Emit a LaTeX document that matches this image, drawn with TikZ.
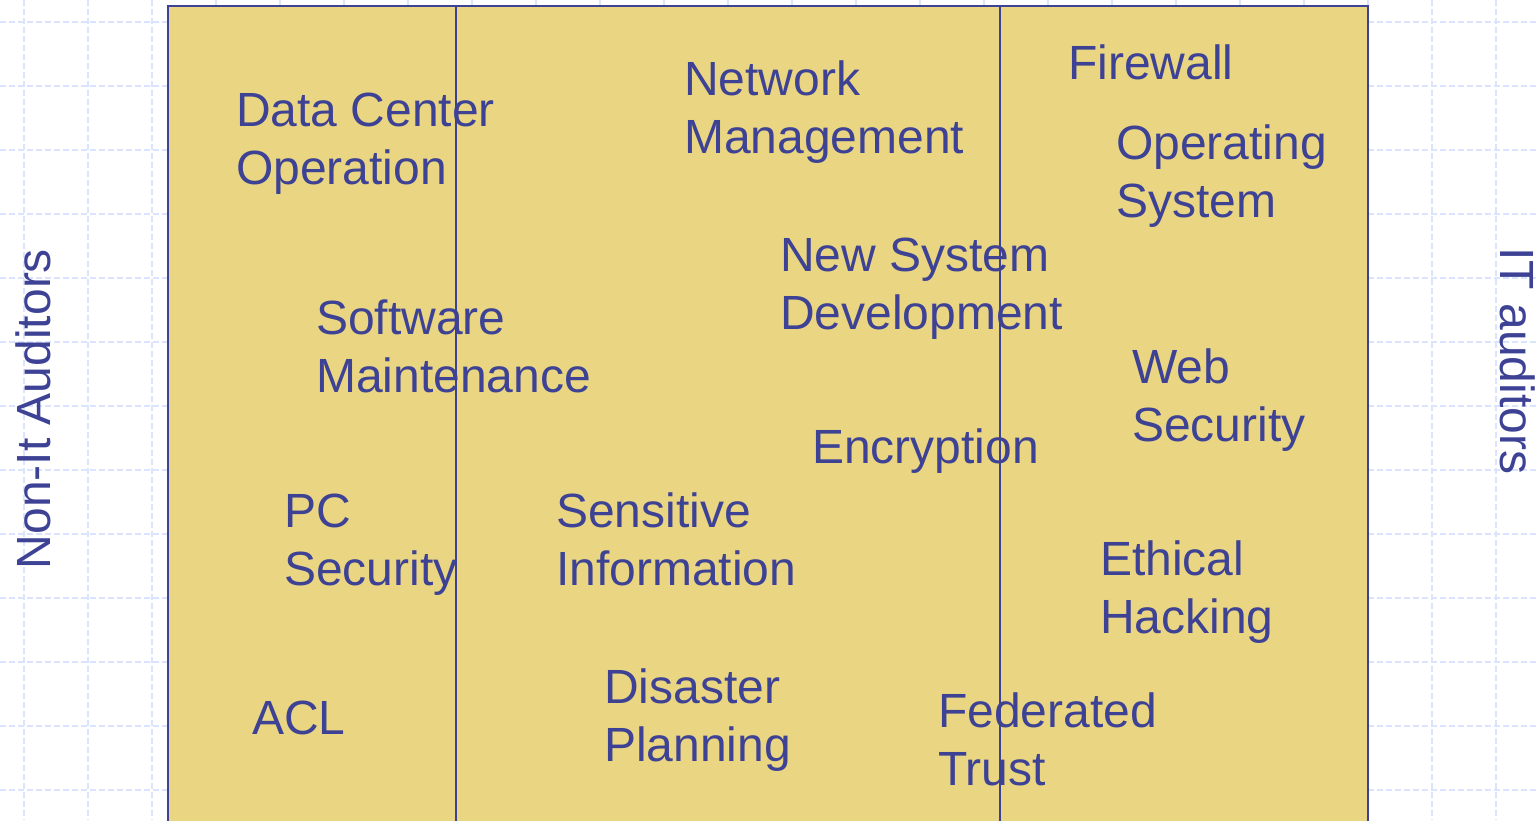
\documentclass[tikz,border=0pt]{standalone}
\usepackage{fontspec}
\setmainfont{Liberation Sans}
\definecolor{txtblue}{RGB}{61,66,148}
\definecolor{lineblue}{RGB}{62,66,150}
\definecolor{boxyellow}{RGB}{234,214,130}
\definecolor{gridblue}{RGB}{218,228,255}
\tikzset{
  lbl/.style={anchor=base west, inner sep=0pt, align=left, text=txtblue,
    font=\fontsize{48}{58}\selectfont},
  side/.style={anchor=base, inner sep=0pt, text=txtblue,
    font=\fontsize{48}{58}\selectfont},
  gridline/.style={draw=gridblue, line width=1.6pt, dash pattern=on 6pt off 3pt},
  divider/.style={draw=lineblue, line width=2.2pt},
}
\begin{document}
\begin{tikzpicture}[x=1pt,y=-1pt]
\useasboundingbox (0,0) rectangle (1539,820);
% background grid
\foreach \gx in {24,88,...,1540} \draw[gridline] (\gx,0) -- (\gx,820);
\foreach \gy in {22,86,...,820} \draw[gridline] (0,\gy) -- (1539,\gy);
% main box
\path[fill=boxyellow, divider] (168,6) rectangle (1368,840);
\draw[divider] (456,6) -- (456,840);
\draw[divider] (1000,6) -- (1000,840);
% labels (anchor = baseline of the last line)
\node[lbl] (dc)  at (236,184) {Data Center\\Operation};
\node[lbl] (nm)  at (684,153) {Network\\Management};
\node[lbl] (fw)  at (1068,79) {Firewall};
\node[lbl] (os)  at (1116,217) {Operating\\System};
\node[lbl] (nsd) at (780,329) {New System\\Development};
\node[lbl] (sm)  at (316,392) {Software\\Maintenance};
\node[lbl] (ws)  at (1132,441) {Web\\Security};
\node[lbl] (enc) at (812,463) {Encryption};
\node[lbl] (pc)  at (284,585) {PC\\Security};
\node[lbl] (si)  at (556,585) {Sensitive\\Information};
\node[lbl] (eh)  at (1100,633) {Ethical\\Hacking};
\node[lbl] (acl) at (252,734) {ACL};
\node[lbl] (dp)  at (604,761) {Disaster\\Planning};
\node[lbl] (ft)  at (938,785) {Federated\\Trust};
% side labels
\node[side, rotate=90] (nonit) at (50,409) {Non-It Auditors};
\node[side, rotate=-90] (it) at (1500,361) {IT auditors};
\end{tikzpicture}
\end{document}
